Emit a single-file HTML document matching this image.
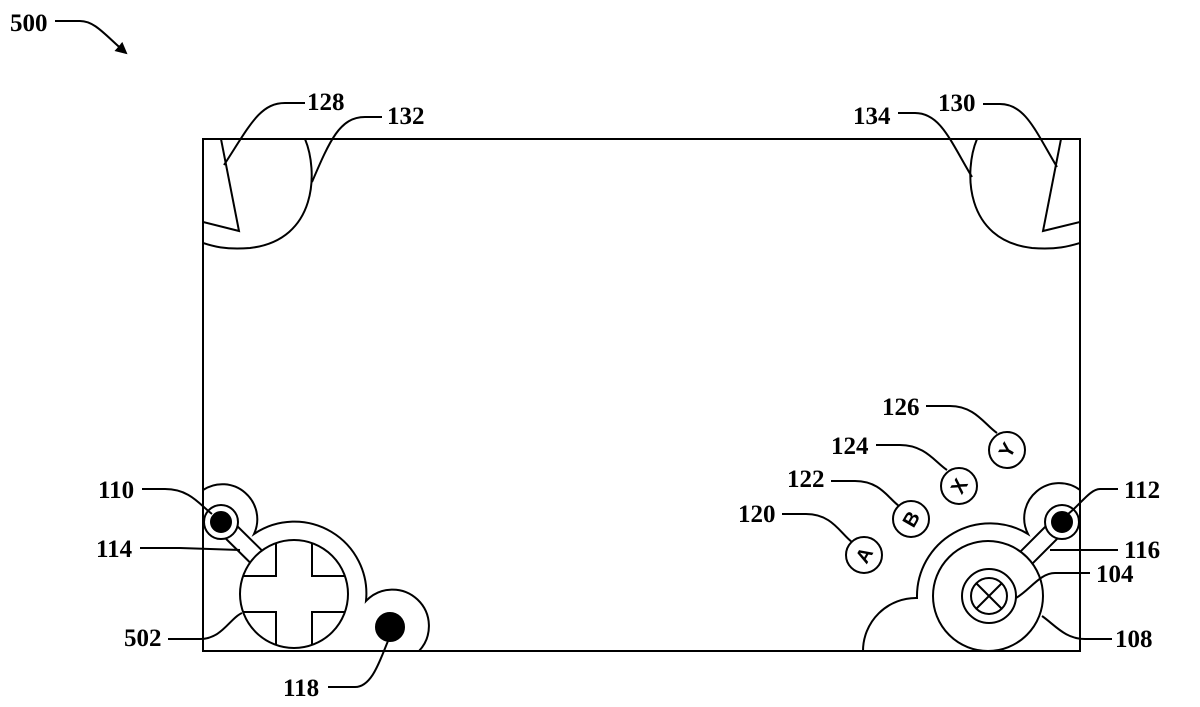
<!DOCTYPE html>
<html><head><meta charset="utf-8"><style>
html,body{margin:0;padding:0;background:#fff;}
svg{display:block;}
text{font-family:"Liberation Serif",serif;font-weight:bold;font-size:25px;fill:#000;}
.b{font-family:"Liberation Sans",sans-serif;font-size:20px;font-weight:bold;}
</style></head><body>
<svg width="1200" height="707" viewBox="0 0 1200 707" xmlns="http://www.w3.org/2000/svg">
<defs>
<clipPath id="r"><rect x="203" y="139" width="877" height="512"/></clipPath>
<clipPath id="dp"><circle cx="294" cy="594" r="54"/></clipPath>
<marker id="ah" markerWidth="12" markerHeight="12" refX="10" refY="6" orient="auto" markerUnits="userSpaceOnUse"><path d="M0,0 L12,6 L0,12 z" fill="#000"/></marker>
</defs>
<g fill="none" stroke="#000" stroke-width="2">
<path d="M55,21 L80,21 C95,21 105,35 126,53" marker-end="url(#ah)"/>
<g clip-path="url(#r)">
<path d="M221,139 L239,231 L203,222"/>
<path d="M305,139 C318,170 318,240 250,248 C225,250 212,246 203,243"/>
<path d="M1061,139 L1043,231 L1080,222"/>
<path d="M977,139 C964,170 964,240 1032,248 C1057,250 1070,246 1080,243"/>
</g>
<!-- left outer outline -->
<path d="M203,490 A35,35 0 0 1 254,534 A72,72 0 0 1 366,601 A34,34 0 0 1 419,651"/>
<!-- right outer outline -->
<path d="M1080,490 A35,35 0 0 0 1028,534 A73,73 0 0 0 917,598 A53,53 0 0 0 863,651"/>
<rect x="203" y="139" width="877" height="512"/>
<path d="M227,516 L300,588 L288,600 L215,528 Z" fill="#fff"/>
<circle cx="221" cy="522" r="17" fill="#fff"/>
<circle cx="221" cy="522" r="10" fill="#000"/>
<circle cx="294" cy="594" r="54" fill="#fff"/>
<path clip-path="url(#dp)" d="M276,530 L276,576 L230,576 M230,612 L276,612 L276,660 M312,660 L312,612 L358,612 M358,576 L312,576 L312,530"/>
<circle cx="390" cy="627" r="14" fill="#000"/>
<path d="M1056,516 L982,590 L994,602 L1068,528 Z" fill="#fff"/>
<circle cx="1062" cy="522" r="17" fill="#fff"/>
<circle cx="1062" cy="522" r="10" fill="#000"/>
<circle cx="988" cy="596" r="55" fill="#fff"/>
<circle cx="989" cy="596" r="27"/>
<circle cx="989" cy="596" r="18"/>
<path d="M976,583 L1002,609 M1002,583 L976,609"/>
<circle cx="864" cy="555" r="18"/>
<circle cx="911" cy="519" r="18"/>
<circle cx="959" cy="486" r="18"/>
<circle cx="1007" cy="450" r="18"/>
<path d="M305,103 L285,103 C260,103 250,125 224,165"/>
<path d="M382,117 L365,117 C340,117 330,140 312,182"/>
<path d="M898,113 L915,113 C940,113 950,140 972,177"/>
<path d="M983,104 L1000,104 C1025,104 1035,130 1057,167"/>
<path d="M926,406 L950,406 C975,406 985,425 997,433"/>
<path d="M876,445 L900,445 C925,445 935,462 947,470"/>
<path d="M831,481 L855,481 C880,481 888,498 899,506"/>
<path d="M782,514 L806,514 C832,514 840,533 852,542"/>
<path d="M142,489 L165,489 C190,489 200,505 212,514"/>
<path d="M140,548 L180,548 L240,550"/>
<path d="M168,639 L200,639 C222,639 230,618 242,613"/>
<path d="M328,687 L355,687 C372,687 380,660 388,641"/>
<path d="M1118,489 L1100,489 C1090,489 1080,505 1068,514"/>
<path d="M1118,550 L1050,550"/>
<path d="M1090,573 L1055,573 C1040,573 1030,590 1016,598"/>
<path d="M1112,639 L1085,639 C1065,639 1055,625 1042,616"/>
</g>
<g>
<text x="10" y="31">500</text>
<text x="307" y="110">128</text>
<text x="387" y="124">132</text>
<text x="853" y="124">134</text>
<text x="938" y="111">130</text>
<text x="882" y="415">126</text>
<text x="831" y="454">124</text>
<text x="787" y="487">122</text>
<text x="738" y="522">120</text>
<text x="98" y="498">110</text>
<text x="96" y="557">114</text>
<text x="124" y="646">502</text>
<text x="283" y="696">118</text>
<text x="1124" y="498">112</text>
<text x="1124" y="558">116</text>
<text x="1096" y="582">104</text>
<text x="1115" y="647">108</text>
</g>
<g>
<text class="b" transform="translate(864,555) rotate(-60)" text-anchor="middle" y="7">A</text>
<text class="b" transform="translate(911,519) rotate(-60)" text-anchor="middle" y="7">B</text>
<text class="b" transform="translate(959,486) rotate(-60)" text-anchor="middle" y="7">X</text>
<text class="b" transform="translate(1007,450) rotate(-60)" text-anchor="middle" y="7">Y</text>
</g>
</svg>
</body></html>
